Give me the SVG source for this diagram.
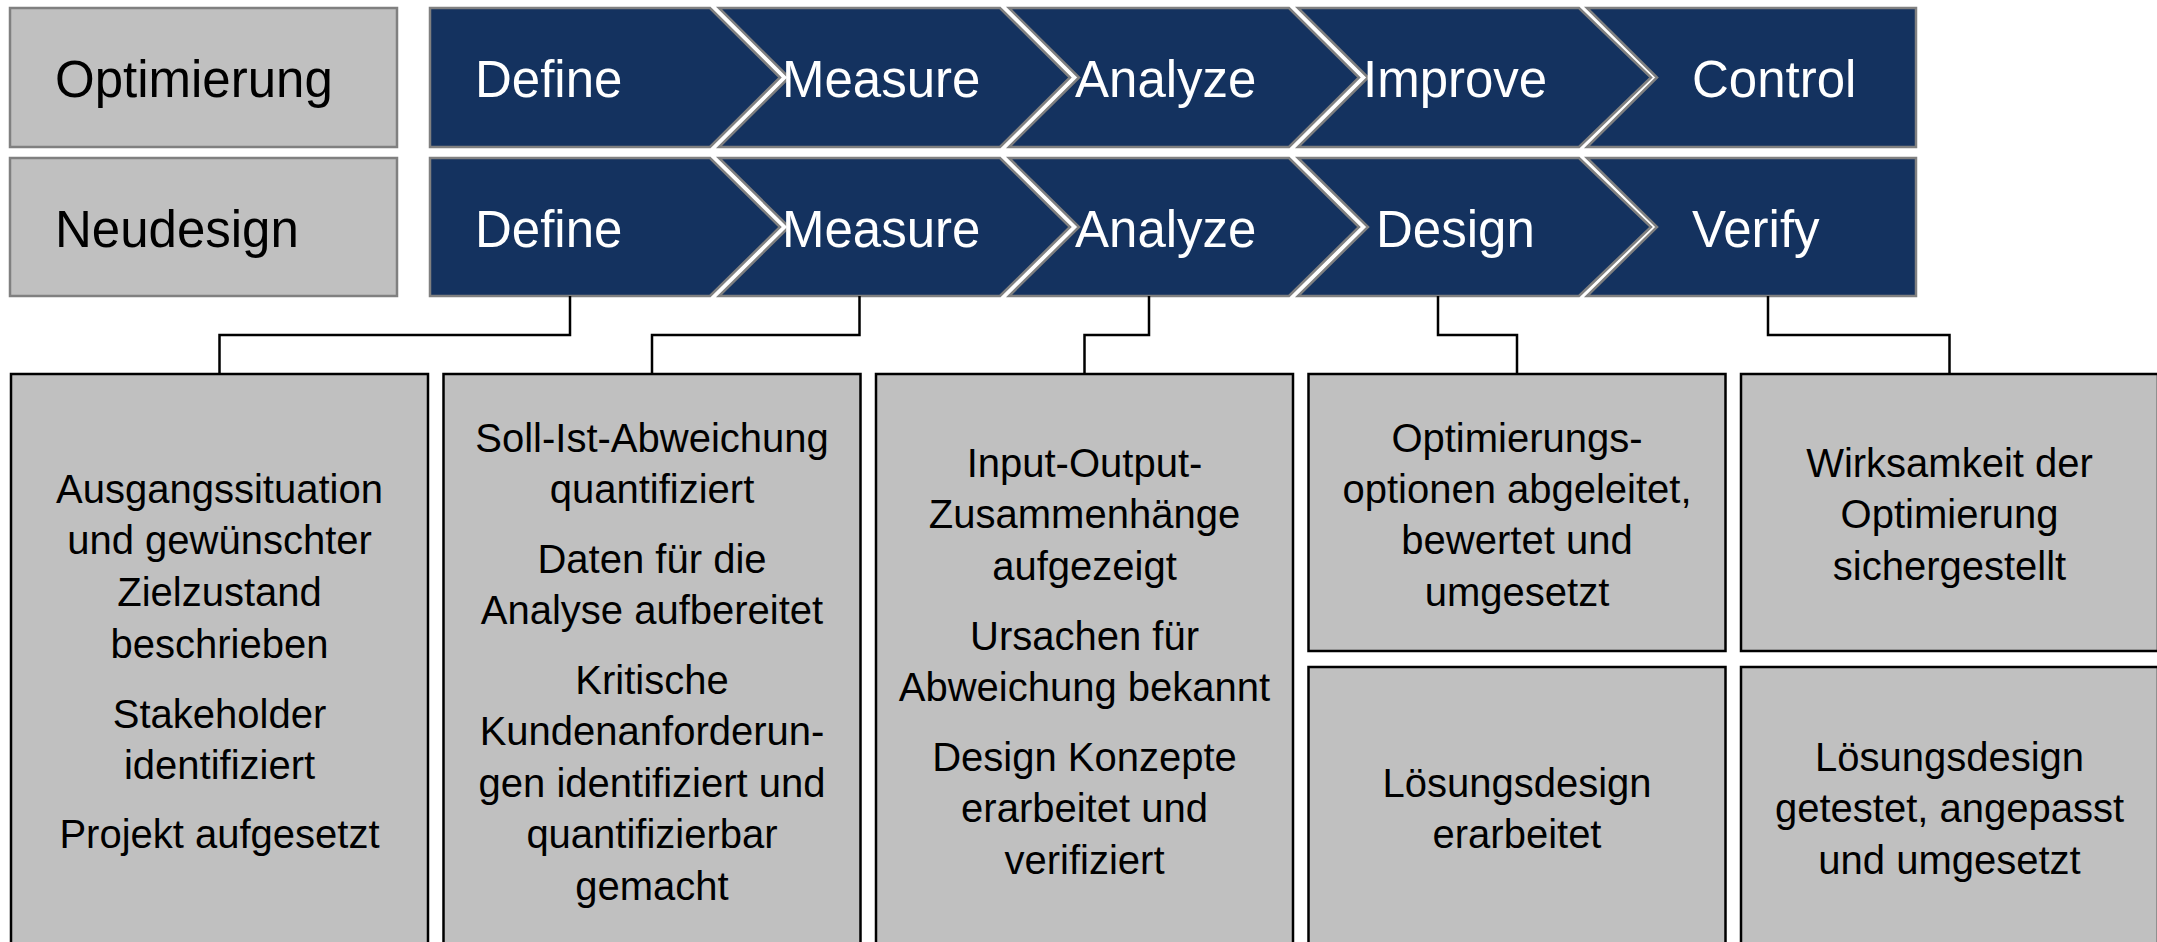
<svg xmlns="http://www.w3.org/2000/svg" width="2157" height="942" viewBox="0 0 2157 942">
<style>
.lbl{fill:#C0C0C0;stroke:#808080;stroke-width:2.5}
.chev{fill:#14325F;stroke:#808080;stroke-width:2.5;stroke-linejoin:miter}
.box{fill:#C0C0C0;stroke:#000;stroke-width:2.5}
.ltxt{font-family:"Liberation Sans",Arial,sans-serif;font-size:51px;fill:#000}
.ctxt{font-family:"Liberation Sans",Arial,sans-serif;font-size:51px;fill:#fff}
.btxt{font-family:"Liberation Sans",Arial,sans-serif;font-size:40px;fill:#000;text-anchor:middle}
.conn{fill:none;stroke:#000;stroke-width:2.5}
</style>
<rect width="2157" height="942" fill="#fff"/>
<g id="label-optimierung"><rect class="lbl" x="10" y="8" width="387" height="139"/><text class="ltxt" x="55" y="97">Optimierung</text></g>
<g id="label-neudesign"><rect class="lbl" x="10" y="158" width="387" height="138"/><text class="ltxt" x="55" y="247">Neudesign</text></g>

<g id="r1-define"><polygon class="chev" points="430,8 710,8 780,77.5 710,147 430,147"/><text class="ctxt" x="475" y="97">Define</text></g>
<g id="r1-measure"><polygon class="chev" points="719,8 1000,8 1070,77.5 1000,147 719,147 789,77.5"/><text class="ctxt" x="782" y="97">Measure</text></g>
<g id="r1-analyze"><polygon class="chev" points="1009,8 1289,8 1359,77.5 1289,147 1009,147 1079,77.5"/><text class="ctxt" x="1075" y="97">Analyze</text></g>
<g id="r1-improve"><polygon class="chev" points="1298,8 1579,8 1651,77.5 1579,147 1298,147 1368,77.5"/><text class="ctxt" x="1363" y="97">Improve</text></g>
<g id="r1-control"><polygon class="chev" points="1587,8 1916,8 1916,147 1587,147 1657,77.5"/><text class="ctxt" x="1692" y="97">Control</text></g>

<g id="r2-define"><polygon class="chev" points="430,158 710,158 780,227 710,296 430,296"/><text class="ctxt" x="475" y="247">Define</text></g>
<g id="r2-measure"><polygon class="chev" points="719,158 1000,158 1070,227 1000,296 719,296 789,227"/><text class="ctxt" x="782" y="247">Measure</text></g>
<g id="r2-analyze"><polygon class="chev" points="1009,158 1289,158 1359,227 1289,296 1009,296 1079,227"/><text class="ctxt" x="1075" y="247">Analyze</text></g>
<g id="r2-design"><polygon class="chev" points="1298,158 1579,158 1651,227 1579,296 1298,296 1368,227"/><text class="ctxt" x="1376" y="247">Design</text></g>
<g id="r2-verify"><polygon class="chev" points="1587,158 1916,158 1916,296 1587,296 1657,227"/><text class="ctxt" x="1692" y="247">Verify</text></g>

<g id="connectors">
<path class="conn" d="M570,296 V335 H219.5 V374"/>
<path class="conn" d="M859.5,296 V335 H652 V374"/>
<path class="conn" d="M1149,296 V335 H1084.5 V374"/>
<path class="conn" d="M1438,296 V335 H1517 V374"/>
<path class="conn" d="M1768,296 V335 H1949.5 V374"/>
</g>

<g id="box-define"><rect class="box" x="11" y="374" width="417" height="600"/>
<text class="btxt" x="219.5" y="503">Ausgangssituation</text>
<text class="btxt" x="219.5" y="554">und gewünschter</text>
<text class="btxt" x="219.5" y="606">Zielzustand</text>
<text class="btxt" x="219.5" y="658">beschrieben</text>
<text class="btxt" x="219.5" y="728">Stakeholder</text>
<text class="btxt" x="219.5" y="779">identifiziert</text>
<text class="btxt" x="219.5" y="848">Projekt aufgesetzt</text>
</g>
<g id="box-measure"><rect class="box" x="443.5" y="374" width="417" height="600"/>
<text class="btxt" x="652" y="452">Soll-Ist-Abweichung</text>
<text class="btxt" x="652" y="503">quantifiziert</text>
<text class="btxt" x="652" y="573">Daten für die</text>
<text class="btxt" x="652" y="624">Analyse aufbereitet</text>
<text class="btxt" x="652" y="694">Kritische</text>
<text class="btxt" x="652" y="745">Kundenanforderun-</text>
<text class="btxt" x="652" y="797">gen identifiziert und</text>
<text class="btxt" x="652" y="848">quantifizierbar</text>
<text class="btxt" x="652" y="900">gemacht</text>
</g>
<g id="box-analyze"><rect class="box" x="876" y="374" width="417" height="600"/>
<text class="btxt" x="1084.5" y="477">Input-Output-</text>
<text class="btxt" x="1084.5" y="528">Zusammenhänge</text>
<text class="btxt" x="1084.5" y="580">aufgezeigt</text>
<text class="btxt" x="1084.5" y="650">Ursachen für</text>
<text class="btxt" x="1084.5" y="701">Abweichung bekannt</text>
<text class="btxt" x="1084.5" y="771">Design Konzepte</text>
<text class="btxt" x="1084.5" y="822">erarbeitet und</text>
<text class="btxt" x="1084.5" y="874">verifiziert</text>
</g>
<g id="box-improve"><rect class="box" x="1308.5" y="374" width="417" height="277"/>
<text class="btxt" x="1517" y="452">Optimierungs-</text>
<text class="btxt" x="1517" y="503">optionen abgeleitet,</text>
<text class="btxt" x="1517" y="554">bewertet und</text>
<text class="btxt" x="1517" y="606">umgesetzt</text>
</g>
<g id="box-design"><rect class="box" x="1308.5" y="667" width="417" height="307"/>
<text class="btxt" x="1517" y="797">Lösungsdesign</text>
<text class="btxt" x="1517" y="848">erarbeitet</text>
</g>
<g id="box-control"><rect class="box" x="1741" y="374" width="417" height="277"/>
<text class="btxt" x="1949.5" y="477">Wirksamkeit der</text>
<text class="btxt" x="1949.5" y="528">Optimierung</text>
<text class="btxt" x="1949.5" y="580">sichergestellt</text>
</g>
<g id="box-verify"><rect class="box" x="1741" y="667" width="417" height="307"/>
<text class="btxt" x="1949.5" y="771">Lösungsdesign</text>
<text class="btxt" x="1949.5" y="822">getestet, angepasst</text>
<text class="btxt" x="1949.5" y="874">und umgesetzt</text>
</g>
</svg>
